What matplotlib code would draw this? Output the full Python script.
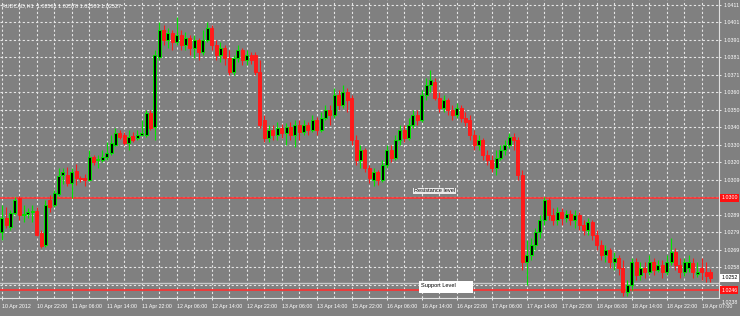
import matplotlib
matplotlib.use("Agg")
import matplotlib.pyplot as plt
from matplotlib.patches import Rectangle

symbol_title = "AUDCAD,H1  1.02561 1.02578 1.02503 1.02527"

opens = [1.02793,1.02875,1.02822,1.02904,1.02991,1.02892,1.02898,1.02909,1.02915,1.02788,
         1.02718,1.02979,1.02950,1.03014,1.03124,1.03124,1.03078,1.03147,1.03107,1.03107,
         1.03095,1.03228,1.03211,1.03211,1.03228,1.03252,1.03298,1.03368,1.03356,1.03310,
         1.03350,1.03339,1.03356,1.03356,1.03484,1.03402,1.03808,1.03965,1.03907,1.03948,
         1.03895,1.03936,1.03878,1.03919,1.03861,1.03907,1.03837,1.03907,1.03977,1.03878,
         1.03820,1.03861,1.03803,1.03721,1.03803,1.03849,1.03791,1.03820,1.03820,1.03721,
         1.03443,1.03339,1.03385,1.03356,1.03397,1.03368,1.03402,1.03356,1.03414,1.03373,
         1.03414,1.03385,1.03443,1.03385,1.03455,1.03501,1.03472,1.03588,1.03530,1.03605,
         1.03571,1.03327,1.03211,1.03269,1.03165,1.03095,1.03141,1.03095,1.03182,1.03269,
         1.03223,1.03327,1.03385,1.03339,1.03414,1.03472,1.03443,1.03588,1.03646,1.03663,
         1.03571,1.03513,1.03559,1.03501,1.03472,1.03513,1.03455,1.03443,1.03356,1.03298,
         1.03327,1.03240,1.03211,1.03165,1.03223,1.03269,1.03298,1.03344,1.03327,1.03124,
         1.02619,1.02660,1.02718,1.02793,1.02863,1.02979,1.02892,1.02863,1.02909,1.02875,
         1.02898,1.02863,1.02892,1.02834,1.02805,1.02851,1.02776,1.02718,1.02660,1.02689,
         1.02619,1.02643,1.02585,1.02445,1.02486,1.02619,1.02544,1.02585,1.02561,1.02619,
         1.02573,1.02602,1.02561,1.02619,1.02677,1.02602,1.02561,1.02585,1.02614,1.02550,
         1.02585,1.02561,1.02561]
closes = [1.02875,1.02834,1.02904,1.02979,1.02892,1.02898,1.02909,1.02915,1.02776,1.02712,
          1.02950,1.02938,1.03020,1.03118,1.03141,1.03078,1.03141,1.03107,1.03101,1.03095,
          1.03228,1.03199,1.03217,1.03228,1.03252,1.03310,1.03368,1.03344,1.03310,1.03344,
          1.03327,1.03356,1.03368,1.03484,1.03397,1.03820,1.03965,1.03907,1.03948,1.03895,
          1.03936,1.03878,1.03919,1.03861,1.03907,1.03837,1.03907,1.03977,1.03878,1.03820,
          1.03861,1.03803,1.03721,1.03803,1.03849,1.03791,1.03820,1.03791,1.03721,1.03414,
          1.03339,1.03385,1.03356,1.03397,1.03368,1.03402,1.03356,1.03414,1.03373,1.03414,
          1.03385,1.03443,1.03385,1.03455,1.03501,1.03472,1.03588,1.03530,1.03605,1.03559,
          1.03327,1.03211,1.03269,1.03165,1.03107,1.03141,1.03095,1.03182,1.03269,1.03223,
          1.03327,1.03385,1.03339,1.03414,1.03472,1.03443,1.03588,1.03646,1.03675,1.03571,
          1.03513,1.03559,1.03501,1.03472,1.03513,1.03455,1.03431,1.03356,1.03298,1.03327,
          1.03240,1.03211,1.03165,1.03223,1.03269,1.03298,1.03344,1.03327,1.03124,1.02619,
          1.02660,1.02718,1.02793,1.02863,1.02979,1.02892,1.02863,1.02909,1.02875,1.02898,
          1.02863,1.02892,1.02834,1.02805,1.02851,1.02776,1.02718,1.02660,1.02689,1.02619,
          1.02643,1.02585,1.02445,1.02486,1.02619,1.02544,1.02585,1.02561,1.02619,1.02573,
          1.02602,1.02561,1.02619,1.02677,1.02602,1.02561,1.02619,1.02619,1.02561,1.02561,
          1.02561,1.02538,1.02527]
highs = [1.02950,1.02938,1.02921,1.02996,1.03002,1.02950,1.02933,1.02950,1.02938,1.02805,
         1.02979,1.03008,1.03037,1.03165,1.03165,1.03170,1.03165,1.03188,1.03118,1.03130,
         1.03269,1.03240,1.03240,1.03269,1.03315,1.03356,1.03397,1.03385,1.03373,1.03385,
         1.03373,1.03385,1.03443,1.03501,1.03501,1.03849,1.04011,1.03994,1.03977,1.03965,
         1.04040,1.03965,1.03953,1.03936,1.03936,1.03919,1.03965,1.04011,1.03994,1.03907,
         1.03895,1.03878,1.03849,1.03820,1.03878,1.03861,1.03849,1.03837,1.03837,1.03791,
         1.03472,1.03414,1.03414,1.03431,1.03420,1.03426,1.03431,1.03443,1.03443,1.03443,
         1.03431,1.03472,1.03460,1.03489,1.03530,1.03530,1.03629,1.03617,1.03646,1.03629,
         1.03588,1.03356,1.03298,1.03281,1.03182,1.03165,1.03153,1.03211,1.03298,1.03298,
         1.03356,1.03414,1.03414,1.03455,1.03501,1.03501,1.03617,1.03687,1.03733,1.03687,
         1.03605,1.03588,1.03571,1.03530,1.03542,1.03530,1.03489,1.03472,1.03385,1.03356,
         1.03339,1.03269,1.03240,1.03269,1.03298,1.03327,1.03368,1.03368,1.03344,1.03153,
         1.02747,1.02759,1.02817,1.02892,1.02996,1.02991,1.02933,1.02938,1.02933,1.02921,
         1.02921,1.02921,1.02909,1.02863,1.02875,1.02863,1.02805,1.02747,1.02718,1.02701,
         1.02677,1.02660,1.02631,1.02515,1.02643,1.02643,1.02619,1.02619,1.02660,1.02643,
         1.02631,1.02631,1.02660,1.02759,1.02701,1.02643,1.02643,1.02660,1.02643,1.02619,
         1.02643,1.02619,1.02578]
lows = [1.02747,1.02817,1.02805,1.02892,1.02863,1.02851,1.02875,1.02851,1.02770,1.02701,
        1.02706,1.02909,1.02938,1.03002,1.03072,1.03060,1.02991,1.03066,1.03083,1.03060,
        1.03089,1.03182,1.03165,1.03199,1.03211,1.03240,1.03292,1.03333,1.03298,1.03269,
        1.03315,1.03327,1.03350,1.03344,1.03385,1.03327,1.03791,1.03878,1.03861,1.03849,
        1.03878,1.03849,1.03849,1.03820,1.03803,1.03791,1.03820,1.03895,1.03849,1.03791,
        1.03779,1.03762,1.03704,1.03704,1.03779,1.03762,1.03762,1.03768,1.03704,1.03397,
        1.03315,1.03315,1.03327,1.03327,1.03339,1.03298,1.03327,1.03286,1.03327,1.03356,
        1.03356,1.03373,1.03356,1.03373,1.03443,1.03414,1.03455,1.03501,1.03513,1.03489,
        1.03298,1.03182,1.03165,1.03141,1.03078,1.03060,1.03066,1.03083,1.03165,1.03199,
        1.03211,1.03298,1.03315,1.03327,1.03397,1.03414,1.03431,1.03559,1.03605,1.03559,
        1.03489,1.03489,1.03472,1.03443,1.03455,1.03431,1.03408,1.03327,1.03269,1.03269,
        1.03211,1.03182,1.03141,1.03124,1.03211,1.03240,1.03281,1.03269,1.03095,1.02573,
        1.02486,1.02631,1.02689,1.02759,1.02834,1.02863,1.02834,1.02834,1.02834,1.02851,
        1.02834,1.02817,1.02805,1.02776,1.02776,1.02747,1.02689,1.02631,1.02619,1.02585,
        1.02573,1.02544,1.02422,1.02422,1.02457,1.02515,1.02515,1.02527,1.02544,1.02544,
        1.02561,1.02527,1.02544,1.02602,1.02573,1.02527,1.02538,1.02561,1.02527,1.02532,
        1.02515,1.02503,1.02503]

x_tick_bars = list(range(0, 161, 8))
x_tick_labels = ["10 Apr 2012", "10 Apr 22:00", "11 Apr 06:00", "11 Apr 14:00", "11 Apr 22:00",
                 "12 Apr 06:00", "12 Apr 14:00", "12 Apr 22:00", "13 Apr 06:00", "13 Apr 14:00",
                 "15 Apr 22:00", "16 Apr 06:00", "16 Apr 14:00", "16 Apr 22:00", "17 Apr 06:00",
                 "17 Apr 14:00", "17 Apr 22:00", "18 Apr 06:00", "18 Apr 14:00", "18 Apr 22:00",
                 "19 Apr 07:00"]
y_tick_values = [1.04110, 1.04009, 1.03907, 1.03806, 1.03704, 1.03603, 1.03501, 1.03400, 1.03298,
                 1.03197, 1.03095, 1.02994, 1.02892, 1.02791, 1.02689, 1.02588, 1.02486, 1.02385]
# labels hidden behind the price boxes in the reference are left empty
y_tick_labels = ["1.0411", "1.0401", "1.0391", "1.0381", "1.0371", "1.0360", "1.0350", "1.0340",
                 "1.0330", "1.0320", "1.0309", "", "1.0289", "1.0279", "1.0269", "1.0258",
                 "", "1.0238"]

resistance = 1.02991
support = 1.02457
bid_line = 1.02500
resistance_label = "1.0300"
support_label = "1.0246"
bid_label = "1.0252"

plt.rcParams["font.family"] = ["Liberation Sans", "DejaVu Sans"]

BG = "#808080"
BULL = "#00e600"
BEAR = "#ff1a1a"
FS = 3.8

fig = plt.figure(figsize=(7.4, 3.16), dpi=100, facecolor=BG)
ax = fig.add_axes([0.0, 18 / 316, 719 / 740, 298 / 316], facecolor=BG)

n = len(closes)
xs = list(range(n))
ax.set_xlim(-0.39, 163.95)
ax.set_ylim(1.02411, 1.04139)

# grid
for v in y_tick_values:
    ax.axhline(v, color="#e6e6e6", lw=0.8, ls=(0, (2, 2)), zorder=1)
for b in range(0, 164, 4):
    ax.axvline(b, color="#e6e6e6", lw=0.8, ls=(0, (2, 2)), zorder=1)

# level lines
ax.axhline(resistance, color="#ff3030", lw=1.2, zorder=2)
ax.axhline(support, color="#ff3030", lw=1.2, zorder=2)
ax.axhline(bid_line, color="#c8c8c8", lw=1.0, zorder=2)

# candles
for i in xs:
    o, c, h, l = opens[i], closes[i], highs[i], lows[i]
    bull = c >= o
    col = BULL if bull else BEAR
    ax.vlines(i, l, h, color=col, lw=0.8, zorder=3)
    lo, hi = min(o, c), max(o, c)
    height = max(hi - lo, 0.00003)
    ax.bar(i, height, bottom=lo, width=0.68,
           color="black" if bull else BEAR, edgecolor=col, linewidth=0.7, zorder=4)

# annotations
ax.text(414 / 719, 1 - 191 / 298, "Resistance level", transform=ax.transAxes,
        fontsize=FS + 0.3, color="black", va="center", ha="left", zorder=6,
        bbox=dict(facecolor="white", edgecolor="none", pad=0.6, alpha=0.85))
ax.add_patch(Rectangle((419 / 719, 1 - 293 / 298), 54 / 719, 12 / 298,
                       transform=ax.transAxes, facecolor="white", edgecolor="none", zorder=6))
ax.text(421 / 719, 1 - 285.5 / 298, "Support Level", transform=ax.transAxes,
        fontsize=FS + 0.3, color="black", va="center", ha="left", zorder=7)

ax.text(0.003, 0.99, symbol_title, transform=ax.transAxes, fontsize=FS + 0.2,
        color="white", va="top", ha="left", zorder=7)

# axes styling
for s in ["top", "left"]:
    ax.spines[s].set_visible(False)
for s in ["right", "bottom"]:
    ax.spines[s].set_color("#e0e0e0")
    ax.spines[s].set_linewidth(0.8)

ax.yaxis.tick_right()
visible = [(v, t) for v, t in zip(y_tick_values, y_tick_labels) if v >= 1.02411]
ax.set_yticks([v for v, _ in visible])
ax.set_yticklabels([t for _, t in visible])
ax.tick_params(axis="y", colors="white", labelsize=FS, length=1.5, width=0.6, pad=1.5)
for v, t in zip(y_tick_values, y_tick_labels):
    if v < 1.02411:
        ax.text(1.004, v, t, transform=ax.get_yaxis_transform(), fontsize=FS,
                color="white", va="center", ha="left", clip_on=False)

ax.set_xticks(x_tick_bars)
ax.set_xticklabels(x_tick_labels)
ax.tick_params(axis="x", colors="white", labelsize=FS, length=1.5, width=0.6, pad=3)
for lab in ax.get_xticklabels():
    lab.set_horizontalalignment("left")

# price boxes on the right axis
def price_box(val, text, fc, tc):
    ax.text(1.003, val, text, transform=ax.get_yaxis_transform(), fontsize=FS,
            color=tc, va="center", ha="left", clip_on=False, zorder=8,
            bbox=dict(facecolor=fc, edgecolor="none", pad=0.8))

price_box(resistance, resistance_label, "#ff1010", "white")
price_box(1.02527, bid_label, "white", "black")
price_box(support, support_label, "#ff1010", "white")

fig.savefig("out.png", dpi=100, facecolor=BG)
